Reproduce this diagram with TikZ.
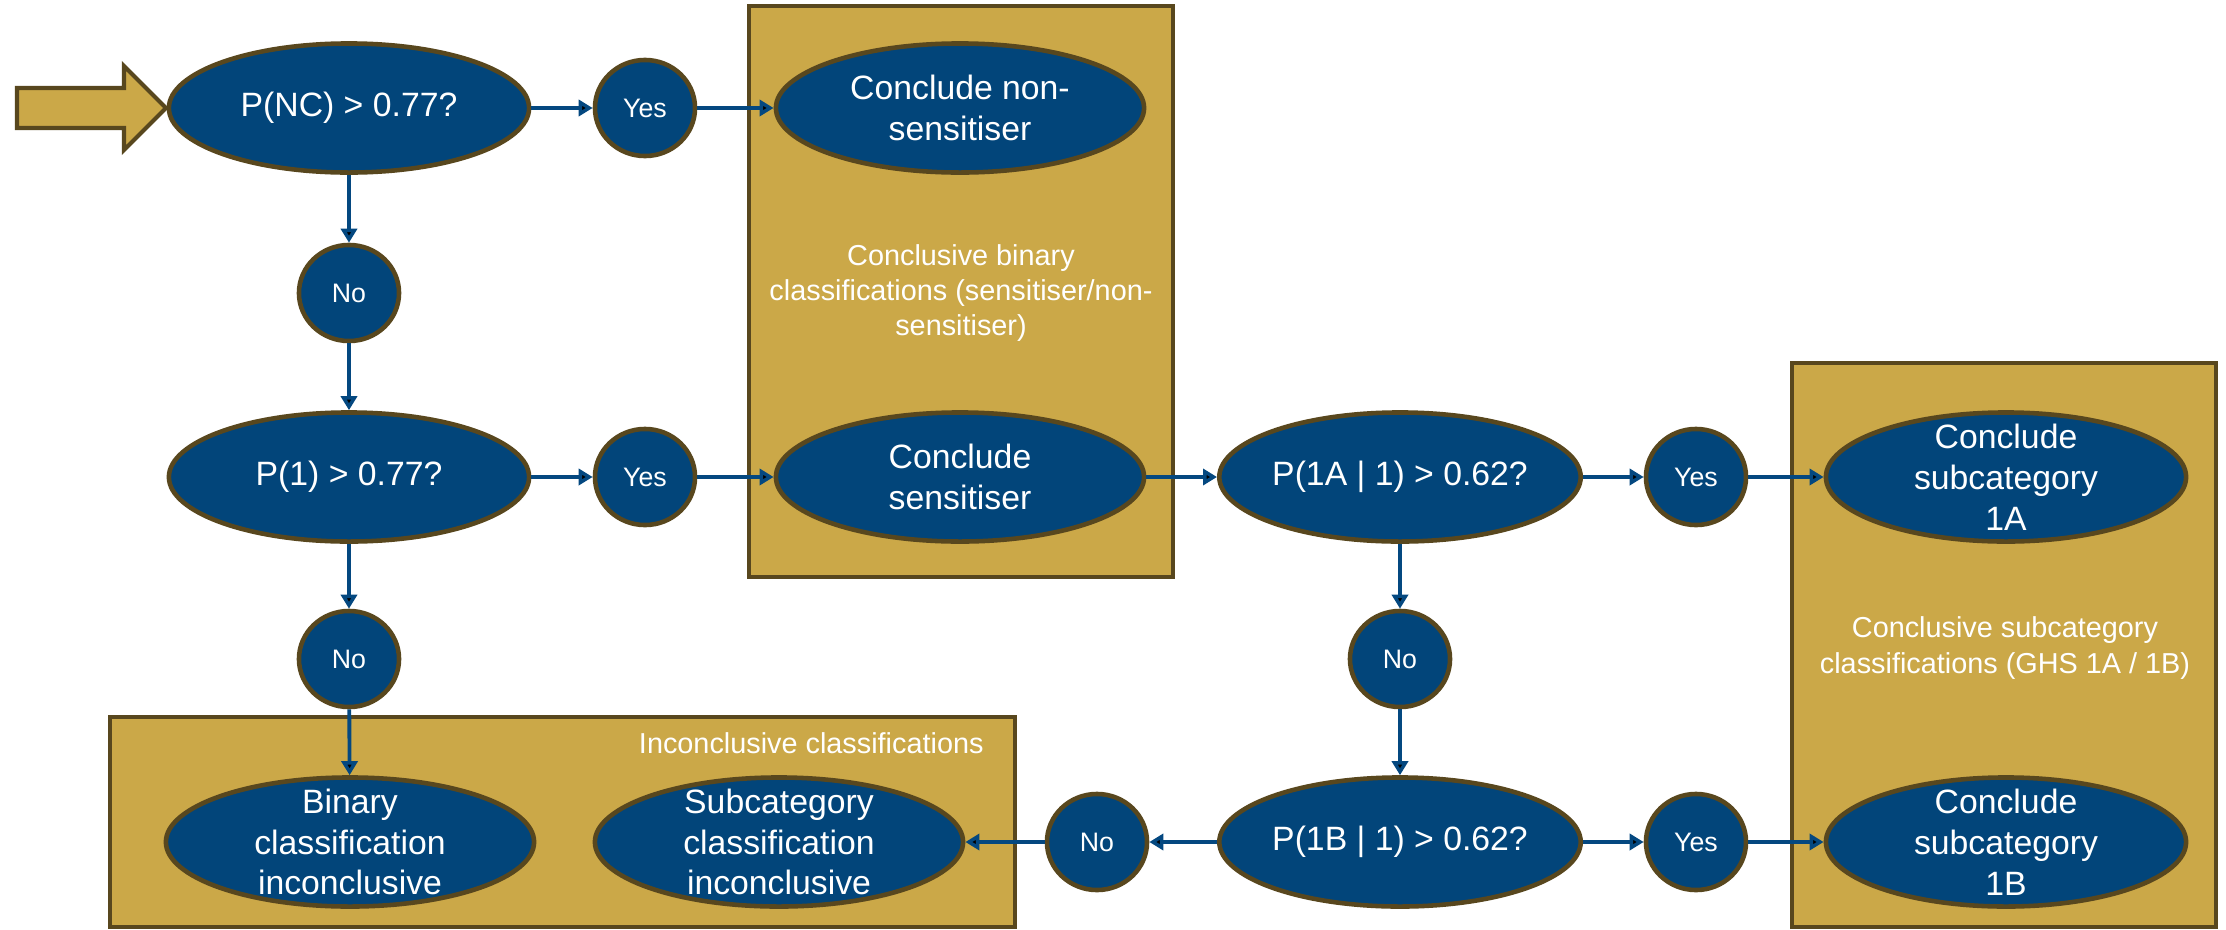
\documentclass[tikz,border=0pt]{standalone}
\usepackage{fontspec}
\setmainfont{Liberation Sans}
\usetikzlibrary{shapes.geometric,arrows.meta}
\definecolor{navy}{RGB}{2,69,122}
\definecolor{rim}{RGB}{88,71,30}
\definecolor{gold}{RGB}{203,168,72}
\definecolor{flowblue}{RGB}{4,72,128}

\begin{document}
\begin{tikzpicture}[x=0.01cm, y=-0.01cm]
\tikzstyle{decision} = [ellipse, draw=rim, line width=1.3pt, fill=navy, text=white, align=center, minimum width=3.6cm, minimum height=1.29cm, inner xsep=0pt, inner ysep=-4mm, font=\fontsize{9.6}{11.6}\selectfont]
\tikzstyle{outcome} = [decision, minimum width=3.68cm]
\tikzstyle{answer} = [decision, minimum width=1.0cm, minimum height=0.96cm, font=\fontsize{7.6}{9}\selectfont]
\tikzstyle{zone} = [draw=rim, line width=1.2pt, fill=gold]
\tikzstyle{zonelabel} = [text=white, align=center, font=\fontsize{8.2}{10}\selectfont]
\tikzstyle{flow} = [draw=flowblue, line width=1.1pt, -{Triangle[length=1.4mm, width=1.6mm]}]

\useasboundingbox (0,0) rectangle (2226,930);

\draw[zone] (749,6) rectangle (1173,577);
\draw[zone] (110,717) rectangle (1015,927);
\draw[zone] (1792,363) rectangle (2216,927);

\node (binlabel) [zonelabel] at (961,293) {Conclusive binary\\classifications (sensitiser/non-\\sensitiser)};
\node (sublabel) [zonelabel] at (2005,648) {Conclusive subcategory\\classifications (GHS 1A / 1B)};
\node (inclabel) [zonelabel, anchor=east] at (996,743) {Inconclusive classifications};

\draw[zone] (17,88) -- (124,88) -- (124,66) -- (166,108) -- (124,150) -- (124,128) -- (17,128) -- cycle;

\node (PNC) [decision] at (349,108) {P(NC) > 0.77?};
\node (Y1) [answer] at (645,108) {Yes};
\node (CNS) [outcome] at (960,108) {Conclude non-\\sensitiser};
\node (N1) [answer] at (349,293) {No};

\node (P1) [decision] at (349,477) {P(1) > 0.77?};
\node (Y2) [answer] at (645,477) {Yes};
\node (CS) [outcome] at (960,477) {Conclude\\sensitiser};
\node (P1A) [decision] at (1400,477) {P(1A | 1) > 0.62?};
\node (Y3) [answer] at (1696,477) {Yes};
\node (C1A) [decision] at (2006,477) {Conclude\\subcategory\\1A};

\node (N2) [answer] at (349,659) {No};
\node (N3) [answer] at (1400,659) {No};

\node (BCI) [outcome] at (350,842) {Binary\\classification\\inconclusive};
\node (SCI) [outcome] at (779,842) {Subcategory\\classification\\inconclusive};
\node (N4) [answer] at (1097,842) {No};
\node (P1B) [decision] at (1400,842) {P(1B | 1) > 0.62?};
\node (Y4) [answer] at (1696,842) {Yes};
\node (C1B) [decision] at (2006,842) {Conclude\\subcategory\\1B};

\path [flow] (PNC) edge (Y1)
             (Y1) edge (CNS)
             (PNC) edge (N1)
             (N1) edge (P1)
             (P1) edge (Y2)
             (Y2) edge (CS)
             (CS) edge (P1A)
             (P1A) edge (Y3)
             (Y3) edge (C1A)
             (P1) edge (N2)
             (N2) edge (BCI)
             (P1A) edge (N3)
             (N3) edge (P1B)
             (P1B) edge (Y4)
             (Y4) edge (C1B)
             (P1B) edge (N4)
             (N4) edge (SCI);
\end{tikzpicture}
\end{document}
